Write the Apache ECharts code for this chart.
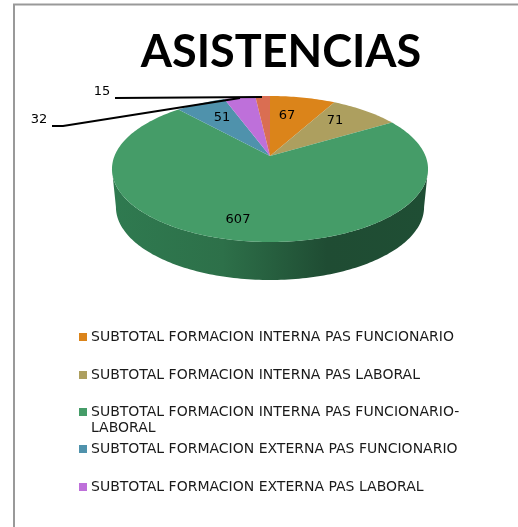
<!DOCTYPE html>
<html>
<head>
<meta charset="utf-8">
<style>html,body{margin:0;padding:0;background:#fff}#c{width:518px;height:527px}</style>
<script src="https://cdn.jsdelivr.net/npm/echarts@6/dist/echarts.min.js"></script>
</head>
<body>
<div id="c"></div>
<script>
const titleText = 'ASISTENCIAS';
const categories = [
  'SUBTOTAL FORMACION INTERNA PAS FUNCIONARIO',
  'SUBTOTAL FORMACION INTERNA PAS LABORAL',
  'SUBTOTAL FORMACION INTERNA PAS FUNCIONARIO-LABORAL',
  'SUBTOTAL FORMACION EXTERNA PAS FUNCIONARIO',
  'SUBTOTAL FORMACION EXTERNA PAS LABORAL',
  'OTROS'
];
const values = [67, 71, 607, 51, 32, 15];
const colors = ['#DB841A', '#AD9F5F', '#459C68', '#4F92AC', '#BE70DA', '#DA6E52'];

// layout constants
const FONT = 'DejaVu Sans';
const pie = {cx: 270, apexY: 156, k: -0.178, a: 70.7, b: 155.5, depth: 38, lowerScale: 0.975};
const labelPos = [[287, 116], [335, 121], [238, 220], [222, 118], [39, 120], [102, 92]];
const leaders = {4: [[52, 126], [63, 126], [240, 98]], 5: [[115, 98], [262, 97]]};
const legendTops = [337, 375, 412, 449, 487];

const total = values.reduce((s, v) => s + v, 0);
function project(theta, scale, dy) {
  const u = Math.sin(theta), v = -Math.cos(theta), d = 1 + pie.k * v;
  return [pie.cx + scale * pie.b * u / d, pie.apexY + dy + pie.a * v / d];
}
function arc(a0, a1, scale, dy) {
  const n = Math.max(2, Math.ceil(Math.abs(a1 - a0) / 0.02)), pts = [];
  for (let i = 0; i <= n; i++) pts.push(project(a0 + (a1 - a0) * i / n, scale, dy));
  return pts;
}
const sideFrom = Math.PI - Math.acos(-pie.k);
const sideTo = Math.PI + Math.acos(-pie.k);

function sliceRender(idx) {
  return function (params, api) {
    const before = values.slice(0, idx).reduce((s, v) => s + v, 0);
    const a0 = before / total * 2 * Math.PI;
    const a1 = a0 + api.value(0) / total * 2 * Math.PI;
    const children = [];
    const s0 = Math.max(a0, sideFrom), s1 = Math.min(a1, sideTo);
    if (s1 > s0) {
      const upper = arc(s0, s1, 1, 0);
      const lower = arc(s1, s0, pie.lowerScale, pie.depth);
      children.push({
        type: 'polygon',
        shape: {points: upper.concat(lower)},
        style: {fill: new echarts.graphic.LinearGradient(0, 0, 1, 0, [
          {offset: 0, color: '#2F7A50'},
          {offset: 0.35, color: '#2D7049'},
          {offset: 0.68, color: '#1F4C33'},
          {offset: 1, color: '#1F4E34'}
        ])}
      });
    }
    children.push({
      type: 'polygon',
      shape: {points: [[pie.cx, pie.apexY]].concat(arc(a0, a1, 1, 0))},
      style: {fill: colors[idx]}
    });
    return {type: 'group', children};
  };
}
function overlayRender() {
  return function (params, api) {
    const i = api.value(0);
    const children = [];
    if (leaders[i]) {
      children.push({
        type: 'polyline',
        shape: {points: leaders[i]},
        style: {stroke: '#000', lineWidth: 2, fill: null}
      });
    }
    children.push({
      type: 'text',
      style: {
        text: String(values[i]), x: labelPos[i][0], y: labelPos[i][1],
        align: 'center', verticalAlign: 'middle',
        font: '13px "' + FONT + '"', fill: '#000'
      }
    });
    return {type: 'group', children};
  };
}

const series = values.map((v, i) => ({
  type: 'custom', name: categories[i], coordinateSystem: 'none',
  data: [[v]], renderItem: sliceRender(i), animation: false, silent: true,
  itemStyle: {color: colors[i]}, z: 2
}));
series.push({
  type: 'custom', name: 'labels', coordinateSystem: 'none',
  data: values.map((v, i) => [i]), renderItem: overlayRender(), animation: false, silent: true, z: 5
});

const legends = legendTops.map((top, i) => {
  const name = categories[i];
  return {
    left: 79, top: top - 7, padding: 0, itemWidth: 8, itemHeight: 8, selectedMode: false,
    orient: 'vertical', icon: 'rect',
    formatter: n => n.indexOf('-') > 0 ? n.slice(0, n.indexOf('-') + 1) : n,
    textStyle: {fontFamily: FONT, fontSize: 14, color: '#1a1a1a', padding: [0, 0, 0, -1]},
    data: [{name, icon: 'rect', itemStyle: {color: colors[i]}}]
  };
});

const chart = echarts.init(document.getElementById('c'), null, {renderer: 'canvas', width: 518, height: 527});
chart.setOption({
  animation: false,
  backgroundColor: '#fff',
  title: {
    text: titleText, left: 276, top: 25, textAlign: 'center',
    textStyle: {fontFamily: 'Lato', fontWeight: 'bold', fontSize: 45, color: '#000'}
  },
  legend: legends,
  series,
  graphic: [
    {type: 'polyline', shape: {points: [[14, 527], [14, 4.5], [518, 4.5]]},
      style: {stroke: '#999', lineWidth: 2, fill: null}, silent: true},
    {type: 'text', left: 91, top: 421, style: {text: 'LABORAL', font: '14px "' + FONT + '"', fill: '#1a1a1a'}, silent: true}
  ]
});
</script>
</body>
</html>
